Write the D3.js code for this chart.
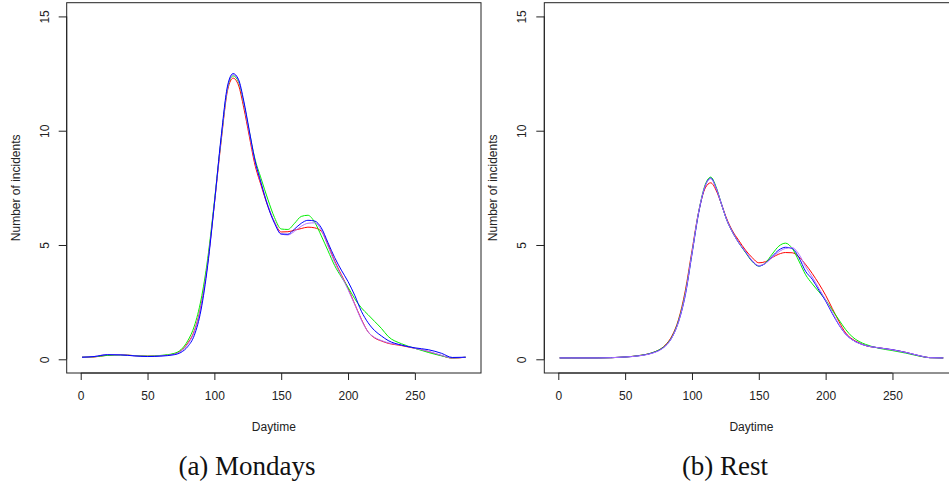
<!DOCTYPE html>
<html>
    <head>
        <script src="https://d3js.org/d3.v7.min.js"></script>
        <style>
            body { margin: 0; background: #fff; }
        </style>
    </head>
    <body>
        <div id="Graph"></div>
        <script>
            // daytime sample points (5-minute bins) and smoothed incident counts
            var daytime = [1, 10, 20, 30, 40, 50, 60, 70, 75, 80, 85, 90, 95, 100, 105, 110, 114, 118, 122, 126,
                           130, 135, 140, 145, 150, 155, 160, 165, 170, 175, 180, 185, 190, 195, 200, 205, 210,
                           215, 220, 225, 230, 240, 250, 260, 270, 278, 288]

            var mondaysRed = [0.09,0.1,0.18,0.2,0.16,0.14,0.16,0.24,0.38,0.7,1.25,2.35,4.25,6.8,9.5,11.8,12.3,12.0,11.0,9.8,
                              8.6,7.6,6.7,6.0,5.57,5.58,5.65,5.72,5.78,5.75,5.6,5.0,4.3,3.7,3.1,2.42,1.75,
                              1.2,0.93,0.8,0.7,0.6,0.48,0.34,0.16,0.05,0.09]
            var mondaysGreen = [0.09,0.11,0.17,0.19,0.16,0.14,0.17,0.26,0.42,0.8,1.45,2.6,4.4,6.9,9.6,11.9,12.4,12.15,11.2,10.0,
                                8.85,7.9,7.0,6.2,5.7,5.68,5.95,6.25,6.3,6.0,5.4,4.75,4.1,3.6,3.15,2.65,2.25,
                                1.95,1.65,1.35,1.0,0.68,0.48,0.3,0.15,0.06,0.09]
            var mondaysBlue = [0.09,0.12,0.2,0.19,0.15,0.12,0.14,0.2,0.3,0.55,1.05,2.15,4.1,6.8,9.7,12.0,12.5,12.25,11.3,10.05,
                               8.8,7.7,6.7,5.95,5.48,5.47,5.7,5.95,6.08,6.05,5.75,5.1,4.45,3.9,3.4,2.8,2.1,
                               1.6,1.25,1.02,0.82,0.62,0.5,0.42,0.26,0.08,0.09]
            var mondaysPurple = [0.09,0.12,0.21,0.2,0.15,0.13,0.15,0.22,0.35,0.65,1.2,2.3,4.2,6.8,9.6,11.9,12.45,12.2,11.2,9.95,
                                 8.75,7.7,6.75,6.0,5.48,5.44,5.6,5.82,5.95,5.97,5.65,4.95,4.25,3.65,3.05,2.4,1.72,
                                 1.2,0.95,0.82,0.72,0.62,0.48,0.35,0.17,0.06,0.09]

            var restRed = [0.06,0.06,0.06,0.06,0.07,0.1,0.16,0.28,0.4,0.62,1.02,1.75,3.0,4.75,6.45,7.5,7.72,7.4,6.8,6.15,
                           5.65,5.2,4.78,4.45,4.22,4.27,4.45,4.6,4.67,4.66,4.48,4.15,3.75,3.3,2.8,2.22,1.65,
                           1.15,0.88,0.72,0.6,0.5,0.41,0.3,0.15,0.07,0.06]
            var restGreen = [0.06,0.06,0.06,0.06,0.07,0.1,0.16,0.28,0.4,0.6,0.98,1.7,2.9,4.65,6.45,7.65,7.97,7.55,6.8,6.1,
                             5.6,5.1,4.68,4.28,4.08,4.22,4.6,4.95,5.08,4.85,4.3,3.7,3.3,2.95,2.6,2.15,1.72,
                             1.3,0.98,0.78,0.65,0.48,0.38,0.27,0.14,0.07,0.06]
            var restBlue = [0.06,0.06,0.06,0.06,0.07,0.1,0.15,0.27,0.38,0.58,0.95,1.65,2.8,4.6,6.4,7.6,7.93,7.5,6.8,6.1,
                            5.6,5.1,4.7,4.3,4.08,4.2,4.5,4.78,4.9,4.85,4.45,3.85,3.5,3.02,2.55,2.0,1.5,
                            1.1,0.85,0.7,0.6,0.5,0.42,0.3,0.16,0.07,0.06]
            var restPurple = [0.06,0.06,0.06,0.06,0.07,0.1,0.15,0.26,0.37,0.57,0.95,1.65,2.85,4.65,6.45,7.6,7.9,7.5,6.8,6.1,
                              5.6,5.1,4.72,4.32,4.1,4.2,4.45,4.7,4.85,4.88,4.6,4.05,3.6,3.1,2.6,2.05,1.52,
                              1.1,0.85,0.7,0.6,0.5,0.41,0.3,0.16,0.07,0.06]

            var xTicks = [0, 50, 100, 150, 200, 250]
            var yTicks = [0, 5, 10, 15]
            var seriesColors = ["#ff0000", "#00ee00", "#0000ff", "#b070ff"]

            var svg = d3.select("#Graph").append("svg")
                .attr("width", 949)
                .attr("height", 483)

            drawPanel(66.7, "(a) Mondays", 247, [mondaysRed, mondaysGreen, mondaysPurple, mondaysBlue], [0, 1, 3, 2], "a")
            drawPanel(544.3, "(b) Rest", 725, [restRed, restGreen, restBlue, restPurple], [0, 1, 2, 3], "b")

            function drawPanel(left, caption, captionX, series, colorIdx, id) {
                var top = 2.7, boxW = 414.3, boxH = 370.3

                // R style limits: 4% padding around data range
                var x = d3.scaleLinear()
                    .domain([-10.48, 299.48])
                    .range([left, left + boxW])
                var y = d3.scaleLinear()
                    .domain([-0.6, 15.6])
                    .range([top + boxH, top])

                var g = svg.append("g")

                g.append("clipPath").attr("id", "clip" + id)
                    .append("rect")
                    .attr("x", left).attr("y", top)
                    .attr("width", boxW).attr("height", boxH)

                var line = d3.line()
                    .x(function(d, i) { return x(daytime[i]) })
                    .y(function(d) { return y(d) })
                    .curve(d3.curveMonotoneX)

                g.append("g")
                    .attr("clip-path", "url(#clip" + id + ")")
                    .selectAll("path")
                    .data(series)
                    .enter()
                    .append("path")
                    .attr("d", line)
                    .attr("fill", "none")
                    .attr("stroke", function(d, i) { return seriesColors[colorIdx[i]] })
                    .attr("stroke-width", 1)

                g.append("rect")
                    .attr("x", left).attr("y", top)
                    .attr("width", boxW).attr("height", boxH)
                    .attr("fill", "none")
                    .attr("stroke", "#222")
                    .attr("stroke-width", 1)

                // x axis
                var xa = g.append("g")
                    .attr("transform", "translate(0," + (top + boxH) + ")")
                    .call(d3.axisBottom(x).tickValues(xTicks).tickSize(7).tickPadding(11))
                xa.select(".domain").attr("d", "M" + x(0) + ",0H" + x(250)).attr("stroke", "#222")
                xa.selectAll(".tick line").attr("stroke", "#222")
                xa.selectAll("text")
                    .attr("font-family", "Liberation Sans, Arial, sans-serif")
                    .attr("font-size", "12px")
                    .attr("fill", "#222")

                // y axis with labels parallel to the axis
                var ya = g.append("g")
                    .attr("transform", "translate(" + left + ",0)")
                    .call(d3.axisLeft(y).tickValues(yTicks).tickSize(8))
                ya.select(".domain").attr("d", "M0," + y(0) + "V" + y(15)).attr("stroke", "#222")
                ya.selectAll(".tick line").attr("stroke", "#222")
                ya.selectAll("text")
                    .attr("x", null).attr("dy", null)
                    .attr("transform", "translate(-18,0) rotate(-90)")
                    .attr("text-anchor", "middle")
                    .attr("font-family", "Liberation Sans, Arial, sans-serif")
                    .attr("font-size", "12px")
                    .attr("fill", "#222")

                g.append("text")
                    .attr("x", left + boxW / 2)
                    .attr("y", top + boxH + 58)
                    .attr("text-anchor", "middle")
                    .attr("font-family", "Liberation Sans, Arial, sans-serif")
                    .attr("font-size", "12px")
                    .attr("fill", "#222")
                    .text("Daytime")

                g.append("text")
                    .attr("transform", "translate(" + (left - 47) + "," + (top + boxH / 2) + ") rotate(-90)")
                    .attr("text-anchor", "middle")
                    .attr("font-family", "Liberation Sans, Arial, sans-serif")
                    .attr("font-size", "12px")
                    .attr("fill", "#222")
                    .text("Number of incidents")

                g.append("text")
                    .attr("x", captionX)
                    .attr("y", 475)
                    .attr("text-anchor", "middle")
                    .attr("font-family", "Liberation Serif, Times New Roman, serif")
                    .attr("font-size", "27px")
                    .attr("fill", "#111")
                    .text(caption)
            }
        </script>
    </body>
</html>
